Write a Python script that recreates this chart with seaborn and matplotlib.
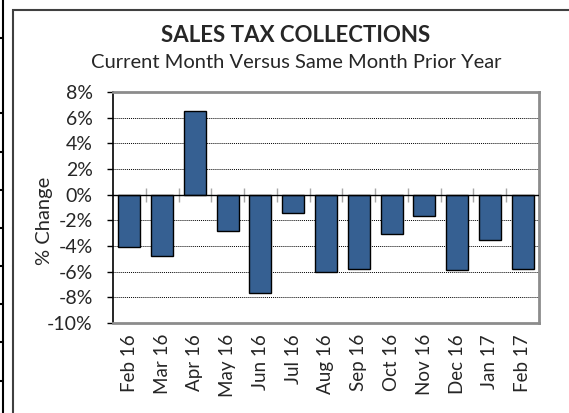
import seaborn as sns
import matplotlib.pyplot as plt
import matplotlib.ticker as mticker
from matplotlib.patches import Rectangle
from matplotlib.lines import Line2D
import numpy as np
import pandas as pd

months = ['Feb 16', 'Mar 16', 'Apr 16', 'May 16', 'Jun 16', 'Jul 16', 'Aug 16',
          'Sep 16', 'Oct 16', 'Nov 16', 'Dec 16', 'Jan 17', 'Feb 17']
pct_change = [-4.1, -4.8, 6.5, -2.8, -7.7, -1.4, -6.0, -5.8, -3.1, -1.7, -5.9, -3.5, -5.8]
y_ticks = [-10, -8, -6, -4, -2, 0, 2, 4, 6, 8]

df = pd.DataFrame({'month': months, 'change': pct_change})

sns.set_style('white')
plt.rcParams['font.family'] = ['Lato', 'DejaVu Sans']

fig = plt.figure(figsize=(5.69, 4.13), dpi=100)
ax = fig.add_axes([113 / 569, 1 - 323 / 413, (539 - 113) / 569, (323 - 92) / 413])

# dotted grid behind bars
for v in y_ticks:
    if v not in (0, -10, 8):
        ax.axhline(v, color='black', lw=0.7, ls=(0, (1, 1)), zorder=0)

sns.barplot(data=df, x='month', y='change', color='#366092', saturation=1,
            edgecolor='black', linewidth=1, width=0.67, ax=ax, zorder=2)

ax.axhline(0, color='black', lw=1, zorder=3)
# category separators on the zero line
n = len(months)
ax.vlines(np.arange(n) + 0.5, -0.55, 0.55, color='#a8a8a8', lw=1, zorder=1)

ax.set_ylim(-10, 8)
ax.set_xlim(-0.5, n - 0.5)
ax.set_yticks(y_ticks)
ax.yaxis.set_major_formatter(mticker.FuncFormatter(lambda v, p: f'{v:.0f}%'))
ax.tick_params(axis='y', labelsize=14, length=4.5, width=1, color='black', left=True, pad=10)
ax.tick_params(axis='x', labelsize=13.5, length=0, rotation=90, pad=8)
ax.set_xlabel('')
ax.set_ylabel('% Change', fontsize=14.5)
ax.yaxis.set_label_coords(-60 / 426, (323 - 221) / 231)

for s in ['top', 'right', 'bottom']:
    ax.spines[s].set_color('#8c8c8c')
    ax.spines[s].set_linewidth(2)
ax.spines['left'].set_color('black')
ax.spines['left'].set_linewidth(1.2)

fig.text(296 / 569, 1 - 36 / 413, 'SALES TAX COLLECTIONS',
         ha='center', va='center', fontsize=16, fontweight='bold')
fig.text(296 / 569, 1 - 63 / 413, 'Current Month Versus Same Month Prior Year',
         ha='center', va='center', fontsize=14.5)

# chart frame
fig.add_artist(Rectangle((13 / 569, -0.1), 1.2, 1.1 - 10 / 413, transform=fig.transFigure,
                         fill=False, edgecolor='#404040', lw=1.5))
# neighbouring table edge on the left
fig.add_artist(Line2D([3 / 569, 3 / 569], [0, 1], transform=fig.transFigure, color='black', lw=1.5))
for yy in [38, 113, 152, 190, 228, 266, 304, 342, 381]:
    fig.add_artist(Line2D([0, 3 / 569], [1 - yy / 413, 1 - yy / 413], transform=fig.transFigure,
                          color='black', lw=1.5))

fig.savefig('out.png', dpi=100)
